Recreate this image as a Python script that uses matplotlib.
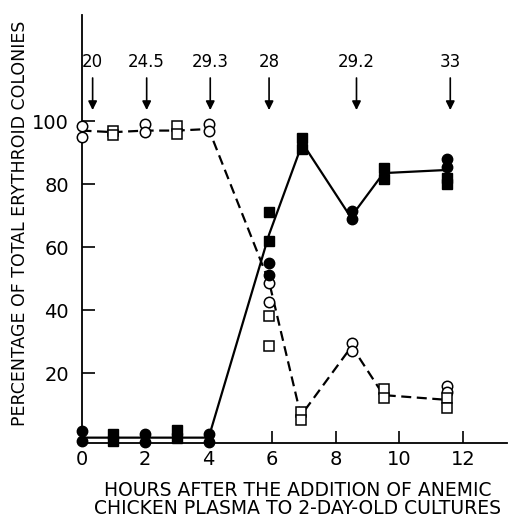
import matplotlib
matplotlib.use("Agg")
import matplotlib.pyplot as plt

# hours after plasma addition, percentages
open_circle_x = [0, 0, 2, 2, 4, 4, 5.9, 5.9, 8.5, 8.5, 11.5, 11.5]
open_circle_y = [98.5, 95, 99, 96.5, 99, 97, 48.5, 42.5, 29.5, 27, 16, 14]
open_square_x = [1, 1, 3, 3, 5.9, 5.9, 6.9, 6.9, 9.5, 9.5, 11.5, 11.5]
open_square_y = [97, 95.5, 98.5, 96, 38, 28.5, 7.5, 5, 15, 12, 12, 9]

filled_circle_x = [0, 0, 2, 2, 4, 4, 5.9, 5.9, 8.5, 8.5, 11.5, 11.5]
filled_circle_y = [1.5, -1.5, 0.5, -2, 0.5, -2, 55, 51, 71.5, 69, 88, 85.5]
filled_square_x = [1, 1, 3, 3, 5.9, 5.9, 6.95, 6.95, 9.5, 9.5, 11.5, 11.5]
filled_square_y = [0.6, -1.6, 1.9, -0.6, 71, 62, 94.5, 91, 85, 81.5, 82, 80]

dashed_x = [0, 1, 2, 3, 4, 5.9, 6.9, 8.5, 9.5, 11.5]
dashed_y = [97, 96.5, 97, 97, 97.5, 49, 6.5, 28.5, 13, 11.5]
solid_x = [0, 1, 2, 3, 4, 5.9, 6.95, 8.47, 9.5, 11.5]
solid_y = [-0.5, -0.5, -0.5, -0.5, -0.5, 64, 93, 69.5, 83.5, 84.5]

arrow_x = [0.35, 2.05, 4.05, 5.9, 8.65, 11.6]
arrow_labels = ['20', '24.5', '29.3', '28', '29.2', '33']

fig = plt.figure(figsize=(5.18, 5.17), dpi=100)
ax = fig.add_axes([81.5 / 518, 1 - 443 / 517, 426 / 518, 428 / 517])

ax.plot(dashed_x, dashed_y, color='k', lw=1.6, dashes=(4.5, 2.5), zorder=2)
ax.plot(solid_x, solid_y, color='k', lw=1.6, zorder=2)

ax.plot(open_circle_x, open_circle_y, 'o', ms=7.5, mfc='white', mec='k', mew=1.1, zorder=3, clip_on=False)
ax.plot(open_square_x, open_square_y, 's', ms=7, mfc='white', mec='k', mew=1.1, zorder=3, clip_on=False)
ax.plot(filled_circle_x, filled_circle_y, 'o', ms=7.5, mfc='k', mec='k', zorder=3, clip_on=False)
ax.plot(filled_square_x, filled_square_y, 's', ms=7, mfc='k', mec='k', zorder=3, clip_on=False)

for x, lab in zip(arrow_x, arrow_labels):
    ax.annotate('', xy=(x, 103.5), xytext=(x, 113.7),
                arrowprops=dict(arrowstyle='-|>', color='k', lw=1.2, mutation_scale=13,
                                shrinkA=0, shrinkB=0))
    ax.text(x, 118.7, lab, ha='center', va='center', fontsize=12)

ax.set_xlim(0, 13.4)
ax.set_ylim(-2.2, 133.7)
ax.set_xticks([0, 2, 4, 6, 8, 10, 12])
ax.set_yticks([20, 40, 60, 80, 100])
ax.tick_params(direction='in', length=9, width=1.2, labelsize=14)
ax.tick_params(axis='x', pad=5)
ax.tick_params(axis='y', pad=9)
ax.spines['top'].set_visible(False)
ax.spines['right'].set_visible(False)
ax.spines['left'].set_linewidth(1.3)
ax.spines['bottom'].set_linewidth(1.3)

fig.text(20 / 518, 1 - 223 / 517, 'PERCENTAGE OF TOTAL ERYTHROID COLONIES',
         rotation=90, ha='center', va='center', fontsize=12.5)
fig.text(298 / 518, 1 - 499.5 / 517,
         'HOURS AFTER THE ADDITION OF ANEMIC\nCHICKEN PLASMA TO 2-DAY-OLD CULTURES',
         ha='center', va='center', multialignment='center', linespacing=0.9, fontsize=13.5)

plt.savefig('out.png', dpi=100)
